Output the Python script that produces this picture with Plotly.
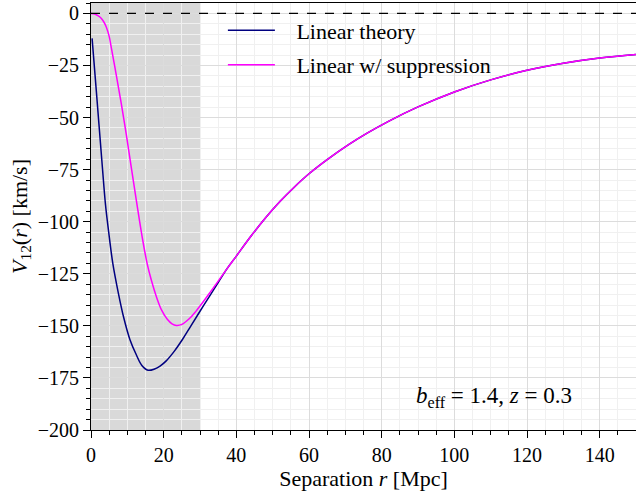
import plotly.graph_objects as go

# ---- data ----
r_theory = [0.3, 1.5, 3.0, 4.0, 4.8, 6.0, 7.5, 9.0, 10.7, 12.5, 14.0, 15.7, 17.5, 19.0,
            20.7, 23.0, 25.3, 27.5, 30.0, 32.6, 35.0, 37.5, 40.0, 44.0, 48.0, 52.0, 56.0,
            60.0, 65.0, 71.0, 76.0, 82.0, 90.0, 100.0, 110.0, 120.0, 130.0, 140.0, 150.0]
v_theory = [-12, -38, -71, -92, -104, -120, -134, -146, -156.5, -164, -169, -171.3,
            -170.7, -169.3, -166.8, -162, -156.2, -150, -143, -135.8, -129.2, -122.4,
            -116.5, -107.0, -98.2, -90.3, -83.3, -77.0, -70.2, -62.9, -57.5, -51.7,
            -44.9, -37.7, -31.9, -27.3, -23.9, -21.4, -19.7]

r_supp = [0.0, 1.0, 2.0, 2.8, 3.5, 4.2, 5.0, 5.6, 6.9, 8.3, 9.7, 11.0, 12.5, 14.3,
          15.5, 16.6, 18.0, 19.4, 21.0, 22.3, 23.5, 25.0, 27.1, 29.0, 30.0, 32.5,
          35.0, 37.5, 40.0, 44.0, 48.0, 52.0, 56.0, 60.0, 65.0, 71.0, 76.0, 82.0, 90.0,
          100.0, 110.0, 120.0, 130.0, 140.0, 150.0]
v_supp = [0, -0.3, -1.2, -2.3, -4, -6.5, -11, -16.5, -29, -43, -58, -73, -90, -109.5,
          -120.5, -128, -136, -142.3, -146.8, -149, -149.8, -149.3, -146.5, -142.7,
          -140.5, -134.6, -128.5, -122.4, -116.5, -107.0, -98.2, -90.3, -83.3, -77.0,
          -70.2, -62.9, -57.5, -51.7, -44.9, -37.7, -31.9, -27.3, -23.9, -21.4, -19.7]

labels = ["\u00a0\u00a0\u00a0Linear theory", "\u00a0\u00a0\u00a0Linear w/ suppression"]
shade_range = [0, 30]
zero_level = 0
x_range = [0, 150]
y_range = [-200, 5]
x_ticks = [0, 20, 40, 60, 80, 100, 120, 140]
y_ticks = [0, -25, -50, -75, -100, -125, -150, -175, -200]

FONT = "Liberation Serif"

fig = go.Figure()
fig.add_trace(go.Scatter(x=r_theory, y=v_theory, mode="lines", name=labels[0],
                         line=dict(color="#000080", width=1.5, shape="spline", smoothing=1.0),
                         legendgroup="a"))
fig.add_trace(go.Scatter(x=r_supp, y=v_supp, mode="lines", name=labels[1],
                         line=dict(color="#ff00ff", width=1.5, shape="spline", smoothing=1.0),
                         legendgroup="b"))

fig.add_shape(type="rect", xref="x", yref="paper", x0=shade_range[0], x1=shade_range[1],
              y0=0, y1=1, fillcolor="#d9d9d9", line=dict(width=0), layer="below")
fig.add_shape(type="line", xref="paper", yref="y", x0=0, x1=1, y0=zero_level, y1=zero_level,
              line=dict(color="black", width=1.3, dash="dash"))

fig.add_annotation(x=0.739, y=0.077, xref="paper", yref="paper", showarrow=False,
                   xanchor="center", yanchor="middle",
                   text="<i>b</i><sub>eff</sub> = 1.4, <i>z</i> = 0.3",
                   font=dict(family=FONT, size=23, color="black"))

axis_common = dict(
    showline=True, linecolor="black", linewidth=1, mirror=True,
    ticks="outside", ticklen=7, tickwidth=1.3, tickcolor="black",
    showgrid=True, gridcolor="#dcdcdc", gridwidth=1, zeroline=False,
    tickfont=dict(family=FONT, size=20, color="black"),
)

minor_common = dict(dtick=5, tick0=0, ticks="outside", ticklen=4, tickwidth=1.2,
                    tickcolor="black", showgrid=True, gridcolor="#f0f0f0",
                    griddash="solid", gridwidth=0.8)

fig.update_xaxes(range=x_range, tickvals=x_ticks, minor=minor_common,
                 title=dict(text="Separation <i>r</i> [Mpc]",
                            font=dict(family=FONT, size=22, color="black"), standoff=0),
                 **axis_common)
fig.update_yaxes(range=y_range, tickvals=y_ticks, minor=minor_common,
                 title=dict(text="<i>V</i><sub>12</sub>(<i>r</i>) [km/s]",
                            font=dict(family=FONT, size=22, color="black"), standoff=4),
                 **axis_common)

fig.update_layout(
    width=636, height=491,
    margin=dict(l=91, r=0, t=3, b=61),
    paper_bgcolor="white", plot_bgcolor="white",
    font=dict(family=FONT, color="black"),
    legend=dict(x=0.242, y=0.985, xanchor="left", yanchor="top",
                bgcolor="rgba(0,0,0,0)", borderwidth=0, itemwidth=47,
                font=dict(family=FONT, size=22, color="black"),
                traceorder="grouped", tracegroupgap=3),
    showlegend=True,
)

fig.write_html("out.html")
